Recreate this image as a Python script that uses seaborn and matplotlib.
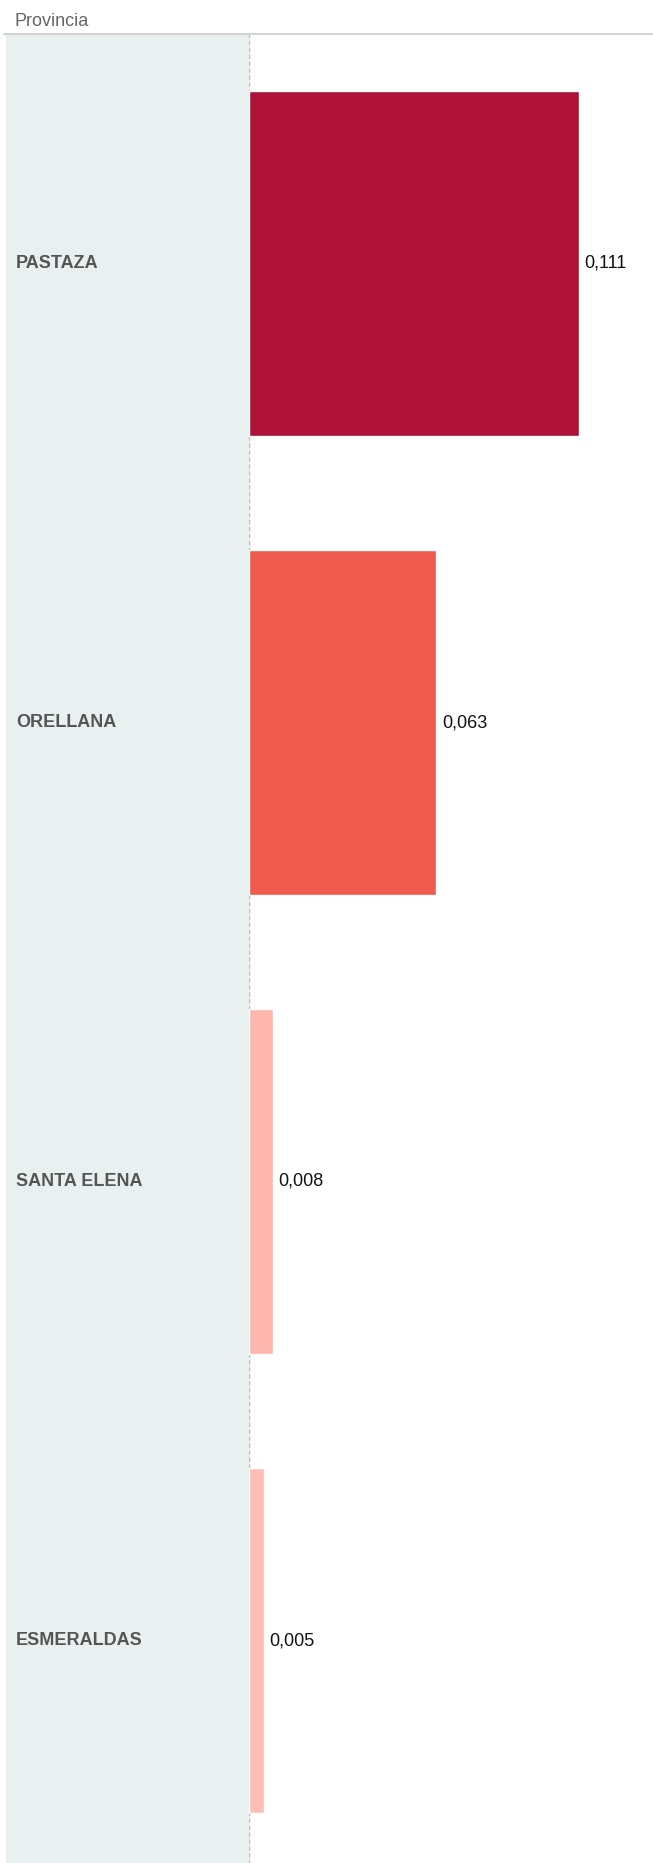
import matplotlib
matplotlib.use("Agg")
import matplotlib.pyplot as plt
import seaborn as sns
import pandas as pd
from matplotlib.lines import Line2D

provincias = ["PASTAZA", "ORELLANA", "SANTA ELENA", "ESMERALDAS"]
valores = [0.111, 0.063, 0.008, 0.005]
colores = ["#AE1238", "#F05A4E", "#FFB6AC", "#FFBEB3"]
titulo_columna = "Provincia"

W, H = 653, 1863
top_px = 34
band_px = 459
split_px = 249

sns.set_theme(style="white")
plt.rcParams["font.family"] = ["Liberation Sans", "DejaVu Sans"]

df = pd.DataFrame({"Provincia": provincias, "Valor": valores})

fig = plt.figure(figsize=(W / 100, H / 100), dpi=100)
fig.patch.set_facecolor("white")

ax_h = band_px * len(provincias)
ax_bottom = H - top_px - ax_h

# left label panel
fig.add_artist(plt.Rectangle((6 / W, 0), (split_px - 6) / W, (H - top_px) / H,
                             transform=fig.transFigure, color="#E8F1F0", zorder=0))
ax_lab = fig.add_axes([6 / W, ax_bottom / H, (split_px - 6) / W, ax_h / H])
ax_lab.patch.set_visible(False)
ax_lab.set_xlim(0, 1)
ax_lab.set_ylim(len(provincias) - 0.5, -0.5)
for i, p in enumerate(provincias):
    ax_lab.text(10 / (split_px - 6), i, p, ha="left", va="center",
                fontsize=13, fontweight="bold", color="#555555")
ax_lab.set_xticks([])
ax_lab.set_yticks([])
for s in ax_lab.spines.values():
    s.set_visible(False)

# bars
ax = fig.add_axes([split_px / W, ax_bottom / H, (W - split_px) / W, ax_h / H])
ax.patch.set_visible(False)
sns.barplot(data=df, x="Valor", y="Provincia", hue="Provincia", palette=colores,
            orient="h", width=0.75, legend=False, ax=ax, saturation=1)
ax.set_xlim(0, 0.1359)
ax.set_ylim(len(provincias) - 0.5, -0.5)
ax.set_xticks([])
ax.set_yticks([])
ax.set_xlabel("")
ax.set_ylabel("")
for s in ax.spines.values():
    s.set_visible(False)
ax.axvline(0, color="#BBBBBB", lw=1, ls=(0, (3, 2)), zorder=0)
for cont in ax.containers:
    ax.bar_label(cont, labels=[f"{v:.3f}".replace(".", ",") for v in cont.datavalues],
                 padding=4, fontsize=13, color="#111111")

# header
fig.text(15 / W, 1 - 22 / H, titulo_columna, ha="left", va="center",
         fontsize=13, color="#666666")
fig.add_artist(Line2D([4 / W, 1], [1 - 33.5 / H, 1 - 33.5 / H],
                      color="#D3D3D3", lw=1.5, transform=fig.transFigure))

fig.savefig("out.png", dpi=100)
